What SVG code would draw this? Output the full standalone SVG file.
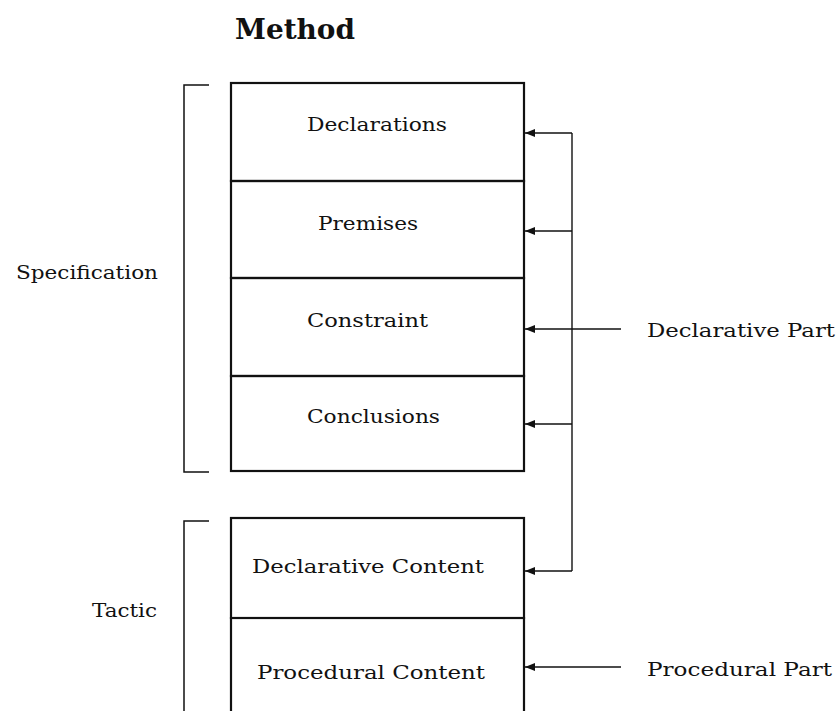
<svg xmlns="http://www.w3.org/2000/svg" width="839" height="711" viewBox="0 0 839 711">
<defs>
<style>
text{font-family:"DejaVu Serif","Liberation Serif",serif;font-size:19px;fill:#111}
.title{font-weight:bold;font-size:27px}
.box{fill:none;stroke:#111;stroke-width:2.2}
.br{fill:none;stroke:#111;stroke-width:1.5}
.con{fill:none;stroke:#111;stroke-width:1.4}
</style>
<marker id="ah" viewBox="0 0 10 8" refX="10" refY="4" markerWidth="10" markerHeight="8" markerUnits="userSpaceOnUse" orient="auto">
<path d="M0,0 L10,4 L0,8 Z" fill="#111"/>
</marker>
</defs>
<text class="title" x="235" y="39" textLength="120" lengthAdjust="spacingAndGlyphs">Method</text>
<g id="bracket-spec"><path class="br" d="M209,85 H184 V472 H209"/><text x="16" y="279" textLength="142" lengthAdjust="spacingAndGlyphs">Specification</text></g>
<g id="bracket-tactic"><path class="br" d="M209,521 H184 V712"/><text x="92" y="617" textLength="65" lengthAdjust="spacingAndGlyphs">Tactic</text></g>
<g id="declarations"><rect class="box" x="231" y="83" width="293" height="98"/><text x="307" y="131" textLength="140" lengthAdjust="spacingAndGlyphs">Declarations</text></g>
<g id="premises"><rect class="box" x="231" y="181" width="293" height="97"/><text x="318" y="230" textLength="100" lengthAdjust="spacingAndGlyphs">Premises</text></g>
<g id="constraint"><rect class="box" x="231" y="278" width="293" height="98"/><text x="307" y="327" textLength="121" lengthAdjust="spacingAndGlyphs">Constraint</text></g>
<g id="conclusions"><rect class="box" x="231" y="376" width="293" height="95"/><text x="307" y="423" textLength="133" lengthAdjust="spacingAndGlyphs">Conclusions</text></g>
<g id="declarative-content"><rect class="box" x="231" y="518" width="293" height="100"/><text x="252" y="573" textLength="232" lengthAdjust="spacingAndGlyphs">Declarative Content</text></g>
<g id="procedural-content"><path class="box" d="M231,715 V618 H524 V715"/><text x="257" y="679" textLength="228" lengthAdjust="spacingAndGlyphs">Procedural Content</text></g>
<g id="declarative-part"><text x="647" y="337" textLength="188" lengthAdjust="spacingAndGlyphs">Declarative Part</text></g>
<g id="procedural-part"><text x="647" y="676" textLength="185" lengthAdjust="spacingAndGlyphs">Procedural Part</text></g>
<g id="connectors">
<path class="con" d="M572,133 V571"/>
<path class="con" d="M572,133 H525" marker-end="url(#ah)"/>
<path class="con" d="M572,231 H525" marker-end="url(#ah)"/>
<path class="con" d="M621,329 H525" marker-end="url(#ah)"/>
<path class="con" d="M572,424 H525" marker-end="url(#ah)"/>
<path class="con" d="M572,571 H525" marker-end="url(#ah)"/>
<path class="con" d="M621,667 H525" marker-end="url(#ah)"/>
</g>
</svg>
